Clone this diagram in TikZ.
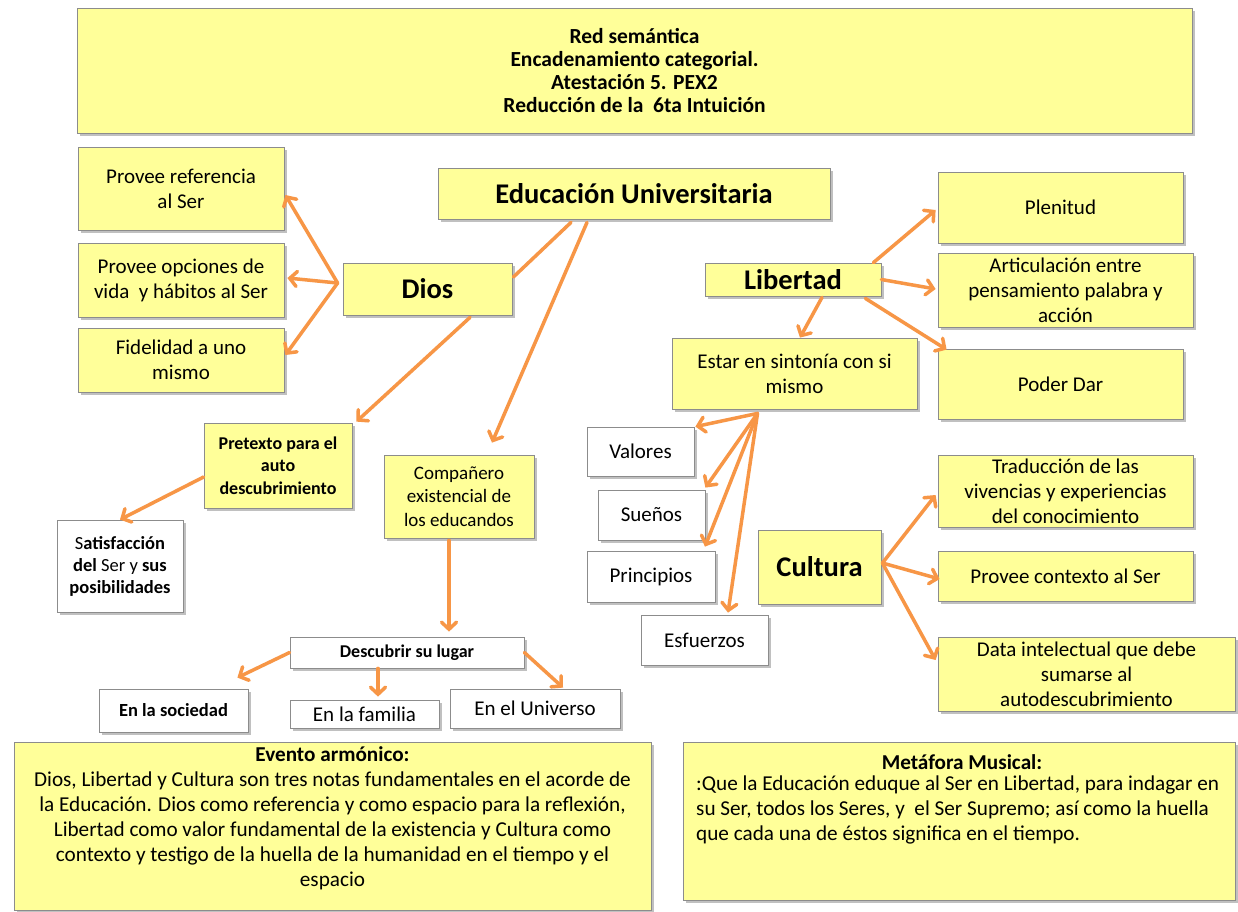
\documentclass[tikz,border=0pt]{standalone}
\usepackage{fontspec}
\setmainfont{Carlito}
\usetikzlibrary{arrows.meta,shadows,calc}
\definecolor{yfill}{HTML}{FFFF99}
\definecolor{boxline}{HTML}{8C8C8C}
\definecolor{arrorange}{HTML}{F79646}
\begin{document}
\begin{tikzpicture}[x=1pt,y=-1pt,
 base/.style={draw=boxline, line width=0.8pt, inner sep=0pt, align=center, text=black,
   drop shadow={shadow xshift=2.5pt,shadow yshift=-2.5pt,opacity=0.35,fill=black!70}},
 ybox/.style={base, fill=yfill},
 wbox/.style={base, fill=white},
 reg/.style={font=\fontsize{21}{25}\selectfont},
 big/.style={font=\fontsize{28.5}{32}\selectfont\bfseries},
 arr/.style={draw=arrorange, line width=3.5pt, line cap=round,
   -{Straight Barb[length=7pt,width=15pt,line cap=round]}},
 link/.style={draw=arrorange, line width=3.5pt, line cap=round},
 sz/.style 2 args={minimum width=#1pt, minimum height=#2pt}
]
\useasboundingbox (0,0) rectangle (1238,911);
\fill[white] (0,0) rectangle (1238,911);

% title
\node[ybox, sz={1115}{125}, font=\fontsize{21.5}{23}\selectfont\bfseries] (title) at (634.5,70.5)
  {Red semántica\\Encadenamiento categorial.\\Atestación 5. PEX2\\Reducción de la\ \ 6ta Intuición};

% left side
\node[ybox, sz={206}{83}, reg] (provref) at (181,188.5) {Provee referencia\\al Ser};
\node[ybox, sz={206}{74}, reg] (provop) at (181,280) {Provee opciones de\\vida\ \ y hábitos al Ser};
\node[ybox, sz={206}{64}, reg] (fidel) at (181,360) {Fidelidad a uno\\mismo};
\node[ybox, sz={169}{52}, big] (dios) at (427.5,289) {Dios};
\node[ybox, sz={392}{51}, big] (edu) at (634,193.5) {Educación Universitaria};
\node[ybox, sz={148}{85}, font=\fontsize{18}{22.5}\selectfont\bfseries] (pretexto) at (278,465.5)
  {Pretexto para el\\auto\\descubrimiento};
\node[ybox, sz={150}{83}, font=\fontsize{19}{23.5}\selectfont] (comp) at (459,496.5)
  {Compañero\\existencial de\\los educandos};
\node[wbox, sz={126}{92}, font=\fontsize{18.5}{22}\selectfont] (satis) at (120,566)
  {S\textbf{atisfacción}\\\textbf{del} Ser y \textbf{sus}\\\textbf{posibilidades}};
\node[wbox, sz={234}{31}, font=\fontsize{18}{20}\selectfont\bfseries] (descubrir) at (407,652.5) {Descubrir su lugar};
\node[wbox, sz={149}{43}, font=\fontsize{18.5}{21}\selectfont\bfseries] (sociedad) at (173.5,710.5) {En la sociedad};
\node[wbox, sz={149}{28}, reg] (familia) at (364.5,714) {En la familia};
\node[wbox, sz={170}{39}, reg] (universo) at (535,708.5) {En el Universo};

% bottom boxes
\node[ybox, sz={637}{168}] (evento) at (332.5,826) {};
\node[anchor=north, inner sep=0pt, align=center, font=\fontsize{21.2}{25}\selectfont] (eventotext) at (332.5,746)
  {\textbf{Evento armónico:}\\
   Dios, Libertad y Cultura son tres notas fundamentales en el acorde de\\
   la Educación. Dios como referencia y como espacio para la reflexión,\\
   Libertad como valor fundamental de la existencia y Cultura como\\
   contexto y testigo de la huella de la humanidad en el tiempo y el\\
   espacio};
\node[ybox, sz={552}{158}] (metafora) at (959,821) {};
\node[inner sep=0pt, font=\fontsize{21.2}{25}\selectfont\bfseries] (metatitle) at (962,762) {Metáfora Musical:};
\node[anchor=north west, inner sep=0pt, align=left, font=\fontsize{21.2}{25}\selectfont] (metabody) at (696,776)
  {:Que la Educación eduque al Ser en Libertad, para indagar en\\
   su Ser, todos los Seres, y\ \ el Ser Supremo; así como la huella\\
   que cada una de éstos significa en el tiempo.};

% right side
\node[ybox, sz={176}{33}, big] (libertad) at (793,279.5) {Libertad};
\node[ybox, sz={245}{71}, reg] (plenitud) at (1060.5,207.5) {Plenitud};
\node[ybox, sz={255}{74}, reg] (artic) at (1065.5,290) {Articulación entre\\pensamiento palabra y\\acción};
\node[ybox, sz={245}{70}, reg] (poder) at (1060.5,384) {Poder Dar};
\node[ybox, sz={245}{71}, reg] (estar) at (794.5,373.5) {Estar en sintonía con si\\mismo};
\node[wbox, sz={107}{49}, reg] (valores) at (640.5,451.5) {Valores};
\node[wbox, sz={107}{50}, reg] (suenos) at (651.5,515) {Sueños};
\node[wbox, sz={128}{51}, reg] (principios) at (651,576.5) {Principios};
\node[wbox, sz={127}{50}, reg] (esfuerzos) at (704.5,640) {Esfuerzos};
\node[ybox, sz={123}{74}, big] (cultura) at (819.5,567) {Cultura};
\node[ybox, sz={255}{72}, reg] (traduccion) at (1065.5,491) {Traducción de las\\vivencias y experiencias\\del conocimiento};
\node[ybox, sz={255}{50}, reg] (contexto) at (1065.5,576) {Provee contexto al Ser};
\node[ybox, sz={297}{74}, reg] (data) at (1086.5,674) {Data intelectual que debe\\sumarse al\\autodescubrimiento};

% connectors: Dios
\coordinate (dhub) at ($(dios.west)+(-5,-6)$);
\draw[arr] (dhub) -- ($(provref.east)+(1,6.5)$);
\draw[arr] (dhub) -- ($(provop.east)+(3,-2)$);
\draw[arr] (dhub) -- ($(fidel.east)+(1,-5)$);
\draw[link] ($(edu.south)+(-63,3)$) -- ($(dios.east)+(1,-12)$);
\draw[arr] ($(edu.south)+(-47,3)$) -- ($(comp.north)+(33,-12)$);
\draw[arr] ($(dios.south)+(42.5,2)$) -- ($(pretexto.north east)+(4,-1)$);
\draw[arr] ($(pretexto.west)+(0,11.5)$) -- (satis.north);
\draw[arr] ($(comp.south)+(-10,2)$) -- ($(descubrir.north)+(42,-5)$);
\draw[arr] (descubrir.west) -- ($(sociedad.north east)+(-11,-11)$);
\draw[arr] ($(descubrir.south)+(-29,0)$) -- ($(familia.north)+(13.5,-3)$);
\draw[arr] (descubrir.east) -- ($(universo.north)+(28,-1)$);

% connectors: Libertad
\draw[arr] ($(libertad.north east)+(-8,0)$) -- ($(plenitud.west)+(-2,2.5)$);
\draw[arr] (libertad.east) -- ($(artic.west)+(-2,-1)$);
\draw[arr] ($(libertad.south east)+(-16,2)$) -- ($(poder.north west)+(9,1)$);
\draw[arr] ($(libertad.south)+(29,1)$) -- ($(estar.north)+(5.5,0)$);

% connectors: Estar
\coordinate (ehub) at ($(estar.south)+(-37,4)$);
\draw[arr] (ehub) -- ($(valores.north east)+(1,0)$);
\draw[arr] (ehub) -- ($(suenos.north east)+(0,-2)$);
\draw[arr] (ehub) -- ($(principios.north)+(54,-4)$);
\draw[arr] (ehub) -- ($(esfuerzos.north)+(23.5,-2)$);

% connectors: Cultura
\coordinate (chub) at ($(cultura.east)+(1,-4)$);
\draw[arr] (chub) -- ($(traduccion.west)+(-2,4)$);
\draw[arr] (chub) -- ($(contexto.west)+(2,3)$);
\draw[arr] (chub) -- ($(data.west)+(-2,-14)$);
\end{tikzpicture}
\end{document}
